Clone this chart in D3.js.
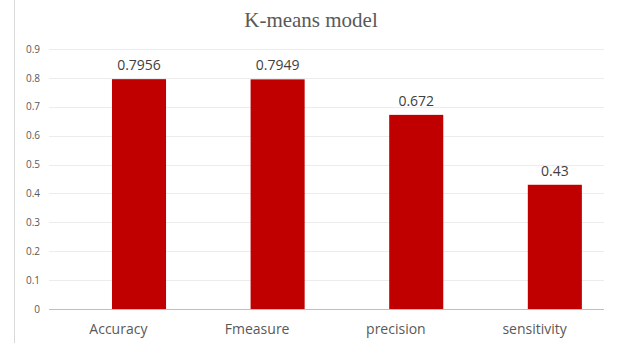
<!DOCTYPE html>
<html>
<head>
<meta charset="utf-8">
<script src="https://cdn.jsdelivr.net/npm/d3@7"></script>
<style>
  body { margin: 0; background: #fff; }
  svg { display: block; }
</style>
</head>
<body>
<div id="chart"></div>
<script>
const categories = ["Accuracy", "Fmeasure", "precision", "sensitivity"];
const values = [0.7956, 0.7949, 0.672, 0.43];
const valueLabels = ["0.7956", "0.7949", "0.672", "0.43"];
const yTicks = [0, 0.1, 0.2, 0.3, 0.4, 0.5, 0.6, 0.7, 0.8, 0.9];

const W = 618, H = 343;
const margin = {top: 49, right: 14, bottom: 34, left: 49};
const width = W - margin.left - margin.right,
      height = H - margin.top - margin.bottom;

const svg = d3.select("#chart").append("svg")
  .attr("width", W)
  .attr("height", H);

// chart frame (left edge visible)
svg.append("line")
  .attr("x1", 14.5).attr("x2", 14.5)
  .attr("y1", 0).attr("y2", H)
  .attr("stroke", "#d9d9d9");

svg.append("text")
  .attr("x", 311)
  .attr("y", 27)
  .attr("text-anchor", "middle")
  .attr("font-family", "'Liberation Serif', 'DejaVu Serif', serif")
  .attr("font-size", "21px")
  .attr("fill", "#595959")
  .text("K-means model");

const g = svg.append("g")
  .attr("transform", `translate(${margin.left},${margin.top})`);

// labels sit on the band centres, bars are offset to the right
const xLab = d3.scaleBand()
  .domain(categories)
  .range([0, width]);

const x = d3.scaleBand()
  .domain(categories)
  .range([0, width])
  .paddingInner(0.61)
  .paddingOuter(0.307)
  .align(0.74);

const y = d3.scaleLinear()
  .domain([0, 0.9])
  .range([height, 0]);

// gridlines
g.append("g")
  .selectAll("line")
  .data(yTicks.slice(1))
  .enter().append("line")
  .attr("x1", 0).attr("x2", width)
  .attr("y1", d => Math.round(y(d)) + 0.5)
  .attr("y2", d => Math.round(y(d)) + 0.5)
  .attr("stroke", "#ececec");

// y axis labels
const yAxis = g.append("g")
  .call(d3.axisLeft(y).tickValues(yTicks).tickSize(0).tickPadding(9)
    .tickFormat(d => d === 0 ? "0" : d3.format(".1f")(d)));
yAxis.select(".domain").remove();
yAxis.selectAll("text")
  .attr("font-family", "'Open Sans', 'Liberation Sans', sans-serif")
  .attr("font-size", "10px")
  .attr("fill", "#595959");

// bars
g.append("g")
  .selectAll("rect")
  .data(values)
  .enter().append("rect")
  .attr("x", (d, i) => x(categories[i]))
  .attr("y", d => y(d))
  .attr("width", x.bandwidth())
  .attr("height", d => height - y(d))
  .attr("fill", "#c00000");

// value labels
g.append("g")
  .selectAll("text")
  .data(values)
  .enter().append("text")
  .attr("x", (d, i) => x(categories[i]) + x.bandwidth() / 2)
  .attr("y", d => y(d) - 9)
  .attr("text-anchor", "middle")
  .attr("font-family", "'Open Sans', 'Liberation Sans', sans-serif")
  .attr("font-size", "14px")
  .attr("fill", "#404040")
  .text((d, i) => valueLabels[i]);

// x axis
const xAxis = g.append("g")
  .attr("transform", `translate(0,${height})`)
  .call(d3.axisBottom(xLab).tickSize(0).tickPadding(15));
xAxis.select(".domain")
  .attr("stroke", "#bfbfbf")
  .attr("d", `M0,0.5H${width}`);
xAxis.selectAll("text")
  .attr("font-family", "'Open Sans', 'Liberation Sans', sans-serif")
  .attr("font-size", "14px")
  .attr("fill", "#595959");
</script>
</body>
</html>
